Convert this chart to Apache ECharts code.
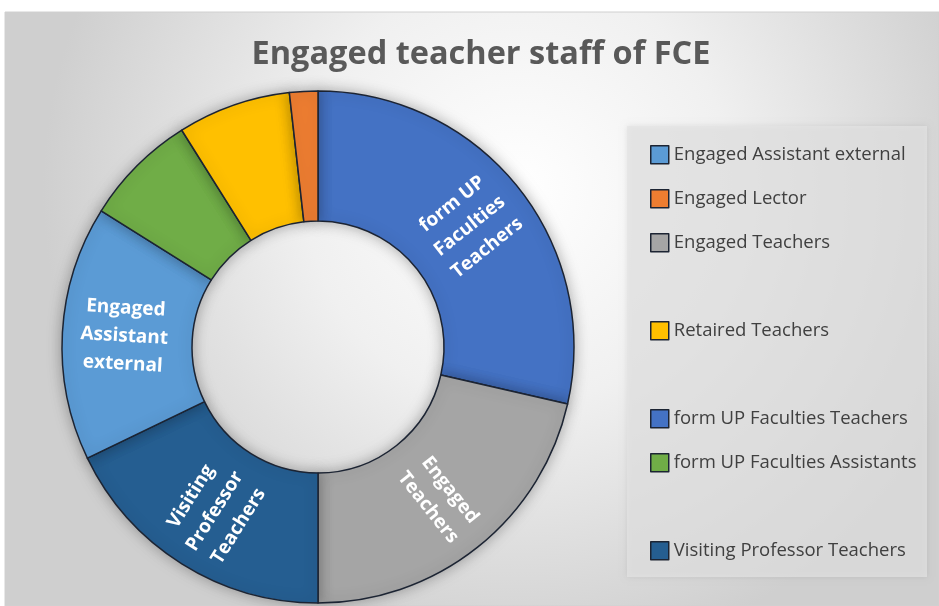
<!DOCTYPE html>
<html>
<head>
<meta charset="utf-8">
<script src="https://cdn.jsdelivr.net/npm/echarts@6/dist/echarts.min.js"></script>
<style>
  html, body { margin: 0; padding: 0; background: #fff; }
  #chart { width: 939px; height: 606px; }
</style>
</head>
<body>
<div id="chart"></div>
<script>
// slices, clockwise from 12 o'clock
const names = [
  'form UP Faculties Teachers',
  'Engaged Teachers',
  'Visiting Professor Teachers',
  'Engaged Assistant external',
  'form UP Faculties Assistants',
  'Retaired Teachers',
  'Engaged Lector',
];
const values = [16, 12, 10, 9, 4, 4, 1];
const colors = ['#4472C4', '#A5A5A5', '#255E91', '#5B9BD5', '#70AD47', '#FFC000', '#ED7D31'];
const sliceLabels = [
  'form UP\nFaculties\nTeachers',
  'Engaged\nTeachers',
  'Visiting\nProfessor\nTeachers',
  'Engaged\nAssistant\nexternal',
  '', '', '',
];
// legend order and rows (px from top)
const legendNames = [
  'Engaged Assistant external',
  'Engaged Lector',
  'Engaged Teachers',
  'Retaired Teachers',
  'form UP Faculties Teachers',
  'form UP Faculties Assistants',
  'Visiting Professor Teachers',
];
const legendTops = [140, 184, 228, 316, 404, 448, 536];

const chart = echarts.init(document.getElementById('chart'));

const legends = legendNames.map((n, i) => ({
  data: [n],
  left: 645,
  top: legendTops[i],
  icon: 'rect',
  itemWidth: 18,
  itemHeight: 18,
  itemStyle: { borderColor: '#1c2433', borderWidth: 1.5, shadowBlur: 0, shadowColor: 'transparent' },
  textStyle: { color: '#404040', fontSize: 18.5, fontFamily: 'Open Sans' },
  selectedMode: false,
}));

const option = {
  animation: false,
  graphic: {
    z: 0,
    elements: [
      {
        type: 'rect',
        shape: { x: 5, y: 12, width: 934, height: 594 },
        style: {
          fill: new echarts.graphic.RadialGradient(0.55, 0.3, 0.8, [
            { offset: 0, color: '#ffffff' },
            { offset: 0.45, color: '#f0f0f0' },
            { offset: 1, color: '#cfcfcf' },
          ]),
          stroke: '#d0d0d0',
          lineWidth: 1,
        },
      },
      {
        type: 'rect',
        shape: { x: 627, y: 126, width: 300, height: 451 },
        style: {
          fill: 'rgba(228,228,228,0.7)',
          shadowBlur: 6,
          shadowColor: 'rgba(0,0,0,0.12)',
        },
      },
    ],
  },
  title: {
    text: 'Engaged teacher staff of FCE',
    left: 476,
    top: 33,
    textAlign: 'center',
    textStyle: { color: '#595959', fontSize: 32.5, fontWeight: 'bold', fontFamily: 'Open Sans' },
  },
  legend: legends,
  series: [
    {
      type: 'pie',
      center: [318, 347],
      radius: [126, 256],
      startAngle: 90,
      clockwise: true,
      avoidLabelOverlap: false,
      itemStyle: {
        borderColor: '#1c2433',
        borderWidth: 1.5,
        shadowBlur: 14,
        shadowColor: 'rgba(0,0,0,0.3)',
      },
      label: {
        position: 'inside',
        rotate: 'radial',
        color: '#ffffff',
        fontSize: 19,
        fontWeight: 'bold',
        fontFamily: 'Open Sans',
        lineHeight: 28,
        formatter: (p) => sliceLabels[p.dataIndex],
      },
      labelLine: { show: false },
      emphasis: { disabled: true },
      data: names.map((n, i) => ({
        name: n,
        value: values[i],
        itemStyle: { color: colors[i] },
        label: { show: sliceLabels[i] !== '' },
      })),
    },
  ],
};

chart.setOption(option);
</script>
</body>
</html>
